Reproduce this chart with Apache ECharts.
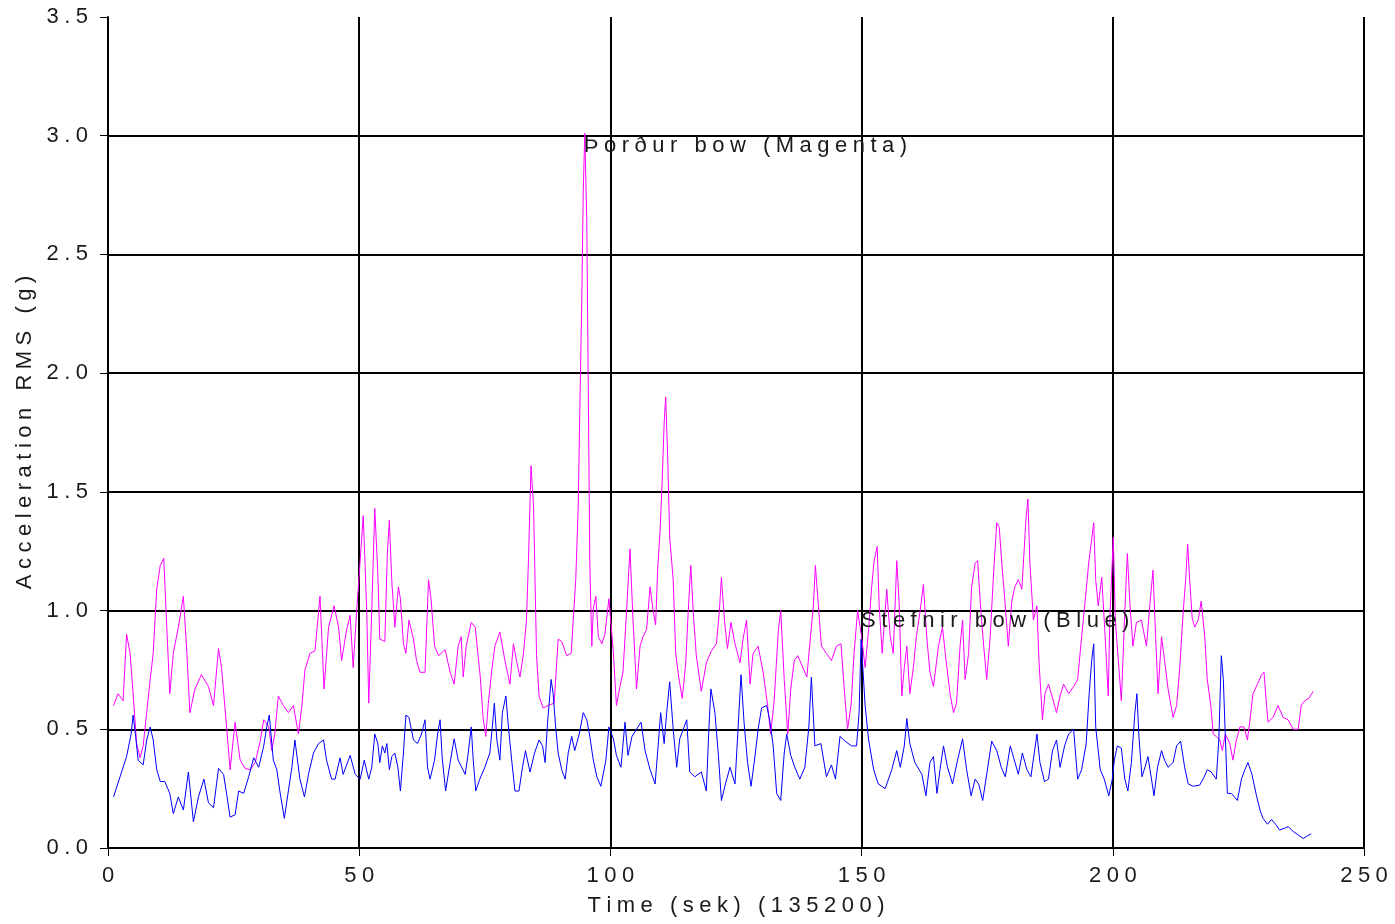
<!DOCTYPE html>
<html><head><meta charset="utf-8">
<script src="https://cdn.jsdelivr.net/npm/echarts@6/dist/echarts.min.js"></script>
<style>html,body{margin:0;padding:0;background:#fff}#c{width:1395px;height:924px}</style>
</head><body><div id="c"></div><script>
// Time (s), acceleration RMS (g)
const thordurBow = [
[1.1,0.60],[2,0.65],[3,0.62],[3.7,0.90],[4.4,0.82],[5,0.65],[5.7,0.44],[6.4,0.38],[7,0.43],[7.7,0.57],
[8.4,0.71],[9,0.82],[9.7,1.09],[10.4,1.19],[11.1,1.22],[11.7,0.93],[12.3,0.65],[13,0.82],[14,0.93],[15,1.06],
[15.7,0.82],[16.3,0.57],[17.3,0.67],[18.6,0.73],[20,0.68],[21,0.60],[22,0.84],[22.6,0.76],[23.6,0.51],[24.3,0.33],
[25.3,0.53],[26.3,0.37],[27.3,0.335],[28.3,0.33],[29.3,0.36],[30.3,0.45],[31,0.54],[32,0.51],[32.6,0.41],[33.2,0.48],
[33.9,0.64],[34.9,0.60],[35.9,0.57],[36.9,0.60],[37.9,0.48],[38.6,0.60],[39.2,0.75],[40.2,0.82],[41.2,0.83],[42.2,1.06],
[43,0.67],[43.9,0.93],[45,1.02],[45.9,0.93],[46.5,0.79],[47.5,0.92],[48.2,0.98],[48.8,0.76],[49.5,1.00],
[50,1.15],[50.8,1.40],[51.5,1.0],[51.9,0.61],[52.5,1.0],[53.1,1.43],[53.7,1.16],[54.1,0.88],[55.1,0.87],[55.6,1.24],
[56,1.38],[56.5,1.12],[57.1,0.93],[57.8,1.10],[58.2,1.05],[58.8,0.86],[59.3,0.82],[59.9,0.96],[60.8,0.88],[61.4,0.79],
[62.1,0.74],[63.1,0.74],[63.8,1.13],[64.3,1.05],[65,0.85],[65.8,0.81],[67.1,0.835],[68.1,0.74],[68.9,0.69],[69.7,0.85],
[70.3,0.89],[70.7,0.72],[71.3,0.85],[72.3,0.95],[73.1,0.93],[74.1,0.72],[74.7,0.54],[75.2,0.47],[75.7,0.61],[76.4,0.75],
[77,0.85],[78,0.91],[79,0.79],[80,0.69],[80.7,0.86],[81.3,0.79],[82,0.72],[82.7,0.82],[83.3,0.96],[83.7,1.22],
[84.2,1.61],[84.7,1.44],[85,1.13],[85.3,0.81],[85.8,0.64],[86.6,0.59],[87.6,0.60],[88.8,0.61],[89.6,0.88],[90.3,0.87],
[91.3,0.81],[92.2,0.82],[92.6,0.96],[93.1,1.13],[93.6,1.44],[93.9,1.83],[94.3,2.30],[94.6,2.77],[94.9,3.01],[95.3,2.64],
[95.6,1.93],[95.9,1.20],[96.3,0.85],[96.6,1.01],[97.1,1.06],[97.6,0.89],[98.3,0.86],[98.9,0.90],[99.7,1.05],
[100.6,0.82],[101.2,0.60],[101.9,0.68],[102.5,0.74],[103.2,0.99],[103.9,1.26],[104.5,0.96],[105.2,0.67],[105.9,0.85],[106.5,0.89],
[107.2,0.92],[107.9,1.10],[108.5,1.00],[109,0.94],[109.4,1.17],[109.9,1.34],[110.3,1.54],[110.7,1.79],[111,1.90],[111.4,1.65],
[111.8,1.31],[112.5,1.13],[113,0.82],[113.6,0.72],[114.3,0.63],[115,0.78],[115.5,1.00],[116,1.19],[116.5,0.99],[117.1,0.81],
[118.1,0.66],[119.1,0.78],[120.1,0.83],[121.1,0.86],[121.7,1.00],[122.1,1.14],[122.7,0.96],[123.3,0.84],[124,0.95],[124.8,0.86],
[125.8,0.78],[126.4,0.88],[127.1,0.96],[127.8,0.69],[128.4,0.82],[129.4,0.85],[130.4,0.74],[131.3,0.60],[131.9,0.48],[132.6,0.62],
[133.4,0.91],[133.9,1.00],[134.6,0.71],[135.3,0.48],[135.9,0.67],[136.6,0.79],[137.3,0.81],[138.1,0.77],[139.1,0.72],[139.7,0.86],
[140.4,1.02],[140.8,1.19],[141.4,1.02],[142,0.85],[143,0.82],[144,0.79],[145,0.85],[145.9,0.86],[146.5,0.68],[147.2,0.50],
[147.9,0.60],[148.5,0.82],[149.2,1.00],
[150,0.89],[150.7,0.76],[151.4,0.92],[152,1.10],[152.5,1.21],[153.1,1.27],[153.5,1.02],[154.1,0.82],[155,1.09],[155.7,0.89],
[156.3,0.82],[157,1.21],[157.5,1.02],[158,0.64],[158.5,0.76],[159,0.85],[159.6,0.65],[160.3,0.76],[160.9,0.89],[161.6,0.99],
[162.3,1.11],[163,0.88],[163.6,0.74],[164.3,0.68],[165.3,0.85],[166.1,0.93],[166.7,0.81],[167.6,0.65],[168.3,0.57],[168.9,0.61],
[169.6,0.85],[170.1,0.96],[170.6,0.71],[171.3,0.82],[171.9,1.10],[172.6,1.20],[173.1,1.21],[173.6,1.04],[174.3,0.85],[174.9,0.71],
[175.6,0.89],[176.2,1.13],[176.9,1.37],[177.4,1.35],[177.9,1.20],[178.6,1.02],[179.2,0.85],[179.9,1.04],[180.5,1.10],[181.2,1.13],
[181.9,1.09],[182.7,1.38],[183.1,1.47],[183.5,1.20],[184.2,0.96],[184.9,1.02],[185.3,0.79],[186,0.54],[186.5,0.65],[187.2,0.69],
[187.9,0.64],[188.8,0.57],[189.5,0.64],[190.2,0.69],[191.2,0.65],[192.2,0.68],[193,0.71],[193.8,0.89],[194.5,1.04],[195.2,1.20],
[195.8,1.30],[196.2,1.37],[196.6,1.13],[197.1,1.02],[197.8,1.14],[198.4,0.92],[199.1,0.64],
[199.4,0.96],[200.1,1.31],[200.5,0.96],[201.1,0.79],[201.7,0.62],[202.4,1.00],[202.9,1.24],[203.4,1.03],[204,0.85],[204.7,0.95],
[205.7,0.96],[206.7,0.85],[207.4,1.03],[208,1.17],[208.5,0.90],[209,0.65],[209.7,0.89],[210.3,0.79],[211,0.67],[212,0.55],
[212.7,0.60],[213.3,0.75],[214,0.99],[214.5,1.13],[214.9,1.28],[215.3,1.13],[215.8,0.97],[216.3,0.93],[217,0.96],[217.6,1.04],
[218.3,0.89],[218.8,0.71],[219.5,0.60],[220,0.48],[220.6,0.47],[221.3,0.455],[221.8,0.41],[222.4,0.48],[223.3,0.44],[223.9,0.37],
[224.6,0.455],[225.3,0.51],[226.1,0.51],[226.8,0.455],[227.3,0.54],[227.9,0.65],[228.8,0.69],[229.6,0.73],[230.1,0.74],[230.6,0.60],
[230.9,0.53],[231.9,0.55],[232.9,0.60],[233.9,0.55],[234.9,0.54],[235.9,0.50],[236.9,0.50],[237.5,0.60],[238.2,0.62],[239,0.63],
[239.9,0.66]
];
const stefnirBow = [
[1.1,0.215],[2.4,0.30],[3.7,0.385],[4.6,0.48],[5,0.56],[5.5,0.47],[6,0.37],[7,0.35],[7.7,0.455],[8.4,0.51],
[9,0.455],[9.7,0.33],[10.4,0.28],[11.3,0.28],[12.3,0.23],[13,0.145],[14,0.215],[15,0.16],[16,0.32],[17,0.11],
[18,0.215],[19.1,0.29],[20,0.19],[21,0.17],[22,0.335],[23,0.31],[23.6,0.23],[24.3,0.13],[25.3,0.14],[26,0.24],
[27,0.23],[28,0.30],[29,0.38],[30,0.34],[31,0.43],[31.6,0.51],[32.1,0.56],[32.9,0.37],[33.6,0.33],[34.2,0.24],
[35.1,0.125],[35.9,0.24],[36.6,0.34],[37.2,0.455],[38.2,0.29],[39.1,0.215],[39.9,0.31],[40.9,0.40],[41.9,0.44],[42.9,0.455],
[43.5,0.37],[44.5,0.29],[45.2,0.29],[46.2,0.38],[46.8,0.31],[48.2,0.39],[49.2,0.31],
[50.2,0.29],[51,0.37],[51.9,0.29],[52.5,0.34],[53.1,0.48],[53.7,0.44],[54.1,0.36],[54.6,0.43],[55.1,0.40],[55.5,0.44],
[56,0.33],[56.5,0.385],[57.1,0.40],[57.7,0.34],[58.2,0.24],[58.8,0.40],[59.3,0.56],[59.9,0.55],[60.8,0.455],[61.6,0.44],
[62.4,0.48],[63.1,0.54],[63.6,0.34],[64.1,0.29],[65,0.37],[65.6,0.48],[66.1,0.54],[66.5,0.385],[67.2,0.24],[68.1,0.36],
[68.9,0.46],[69.7,0.37],[70.4,0.34],[71.1,0.31],[71.7,0.40],[72.3,0.51],[72.7,0.37],[73.2,0.24],[74,0.29],[75,0.34],
[76,0.40],[76.5,0.51],[76.9,0.61],[77.4,0.455],[78,0.37],[78.5,0.57],[79.2,0.64],[79.7,0.51],[80.4,0.36],[81,0.24],
[81.8,0.24],[82.5,0.34],[83.1,0.41],[84,0.32],[84.9,0.40],[85.8,0.455],[86.5,0.43],[87,0.36],[87.5,0.53],[88.2,0.71],
[88.6,0.65],[89.1,0.51],[89.6,0.40],[90.3,0.33],[91,0.29],[91.6,0.40],[92.3,0.47],[92.9,0.41],[93.8,0.48],[94.6,0.57],
[95.3,0.54],[95.9,0.47],[96.6,0.37],[97.3,0.30],[98.1,0.26],[99.1,0.37],[99.7,0.51],
[100.6,0.46],[101.2,0.39],[102.1,0.34],[102.9,0.53],[103.5,0.39],[104.3,0.47],[105.2,0.50],[106.1,0.53],[106.9,0.41],[107.9,0.33],
[108.9,0.27],[109.5,0.43],[110,0.57],[110.7,0.44],[111.2,0.57],[111.8,0.70],[112.5,0.50],[113.2,0.34],[113.8,0.46],[114.5,0.50],
[115.2,0.54],[115.8,0.32],[116.8,0.30],[118.1,0.32],[119.1,0.24],[119.6,0.50],[120,0.67],[120.8,0.57],[121.5,0.39],[122.1,0.20],
[122.9,0.27],[123.8,0.34],[124.8,0.27],[125.4,0.50],[126,0.73],[126.6,0.53],[127.3,0.36],[128,0.26],[128.8,0.39],[129.4,0.50],
[130.1,0.59],[131.1,0.60],[131.7,0.54],[132.4,0.43],[133.1,0.23],[133.9,0.20],[134.6,0.40],[135.1,0.48],[135.9,0.39],[136.7,0.34],
[137.7,0.29],[138.7,0.34],[139.5,0.51],[140,0.72],[140.7,0.43],[141.9,0.44],[143,0.30],[144,0.35],[144.8,0.29],[145.7,0.47],
[146.7,0.45],[148,0.43],[149,0.43],[149.5,0.57],
[149.9,0.88],[150.7,0.60],[151.4,0.455],[152.4,0.33],[153.3,0.27],[154.7,0.25],[156,0.33],[157,0.41],[157.7,0.34],[158.5,0.43],
[159,0.545],[159.6,0.44],[160.6,0.36],[162,0.31],[162.8,0.22],[163.6,0.36],[164.3,0.385],[165,0.23],[165.6,0.33],[166.3,0.43],
[167.1,0.34],[168.1,0.27],[169.1,0.37],[170.1,0.46],[170.9,0.33],[171.8,0.22],[172.6,0.29],[173.3,0.27],[174.1,0.20],[174.9,0.31],
[175.9,0.45],[176.9,0.41],[177.8,0.34],[178.6,0.30],[179.6,0.43],[180.2,0.385],[181.2,0.31],[182,0.40],[182.9,0.33],[183.7,0.30],
[184.9,0.48],[185.5,0.36],[186.4,0.28],[187.2,0.29],[188,0.41],[188.8,0.455],[189.5,0.34],[190.4,0.43],[191.2,0.48],[192.2,0.50],
[193,0.29],[193.8,0.33],[194.7,0.44],[195.3,0.65],[195.8,0.79],[196.2,0.86],[196.6,0.51],[197.5,0.33],[198.3,0.29],[199.2,0.22],
[199.9,0.29],[200.3,0.37],[200.9,0.43],[201.7,0.42],[202.4,0.29],[203,0.24],[203.7,0.36],[204.4,0.57],[204.8,0.65],[205.2,0.47],
[205.8,0.30],[206.4,0.34],[207,0.385],[207.7,0.29],[208.2,0.22],[208.9,0.34],[209.7,0.41],[210.3,0.37],[211,0.34],[212,0.36],
[212.7,0.43],[213.5,0.45],[214.3,0.34],[215,0.27],[216,0.26],[217.3,0.265],[218.2,0.30],[218.8,0.33],[219.6,0.32],[220.6,0.29],
[221.1,0.455],[221.6,0.81],[222,0.71],[222.4,0.47],[222.8,0.23],[223.6,0.23],[224.8,0.20],[225.6,0.29],[226.3,0.33],[226.9,0.36],
[227.7,0.31],[228.6,0.22],[229.3,0.16],[229.9,0.125],[230.8,0.10],[231.6,0.12],[232.4,0.10],[233.2,0.076],[234.2,0.083],[234.9,0.09],
[235.9,0.07],[236.9,0.055],[237.9,0.04],[238.5,0.048],[239.5,0.06]
];
const seriesNames = ['Þorður bow (Magenta)', 'Stefnir bow (Blue)'];
const annotations = [
  {text: 'Þorður bow (Magenta)', t: 94.7, v: 3.0},
  {text: 'Stefnir bow (Blue)', t: 149.9, v: 1.0}
];
const xTitle = 'Time (sek) (135200)';
const yTitle = 'Acceleration RMS (g)';

const sp = s => Array.from(String(s)).join('\u2005');
const FONT = "'Liberation Sans', Arial, sans-serif";
const FS = 22;
const TXT = '#1a1a1a';
const chart = echarts.init(document.getElementById('c'), null, {renderer: 'canvas'});
const option = {
  animation: false,
  backgroundColor: '#fff',
  grid: {left: 108, right: 31, top: 17, bottom: 76},
  xAxis: {
    type: 'value', min: 0, max: 250, interval: 50,
    name: sp(xTitle), nameLocation: 'middle', nameGap: 47,
    nameTextStyle: {fontSize: FS, color: TXT, fontFamily: FONT},
    axisLine: {show: true, onZero: false, lineStyle: {color: '#000', width: 2}},
    axisTick: {show: true, length: 8, lineStyle: {color: '#000', width: 1}},
    axisLabel: {margin: 17, fontSize: FS, color: TXT, fontFamily: FONT, formatter: v => sp(v)},
    splitLine: {show: true, lineStyle: {color: '#000', width: 2}}
  },
  yAxis: {
    type: 'value', min: 0, max: 3.5, interval: 0.5,
    name: sp(yTitle), nameLocation: 'middle', nameGap: 70,
    nameTextStyle: {fontSize: FS, color: TXT, fontFamily: FONT},
    axisLine: {show: true, lineStyle: {color: '#000', width: 2}},
    axisTick: {show: true, length: 8, lineStyle: {color: '#000', width: 1}},
    axisLabel: {margin: 20, fontSize: FS, color: TXT, fontFamily: FONT, formatter: v => sp(v.toFixed(1))},
    splitLine: {show: true, showMaxLine: false, lineStyle: {color: '#000', width: 2}}
  },
  series: [
    {name: seriesNames[0], type: 'line', data: thordurBow, symbol: 'none', smooth: false,
     lineStyle: {color: '#ff00ff', width: 1}, itemStyle: {color: '#ff00ff'}, z: 3},
    {name: seriesNames[1], type: 'line', data: stefnirBow, symbol: 'none', smooth: false,
     lineStyle: {color: '#0000ff', width: 1}, itemStyle: {color: '#0000ff'}, z: 4}
  ]
};
chart.setOption(option);
const graphics = annotations.map(a => {
  const p = chart.convertToPixel({gridIndex: 0}, [a.t, a.v]);
  return {type: 'text', x: p[0], y: p[1] - 1, z: 10,
    style: {text: sp(a.text), fill: TXT, font: FS + 'px ' + FONT, textAlign: 'left', textVerticalAlign: 'top'}};
});
chart.setOption({graphic: graphics});
</script></body></html>
